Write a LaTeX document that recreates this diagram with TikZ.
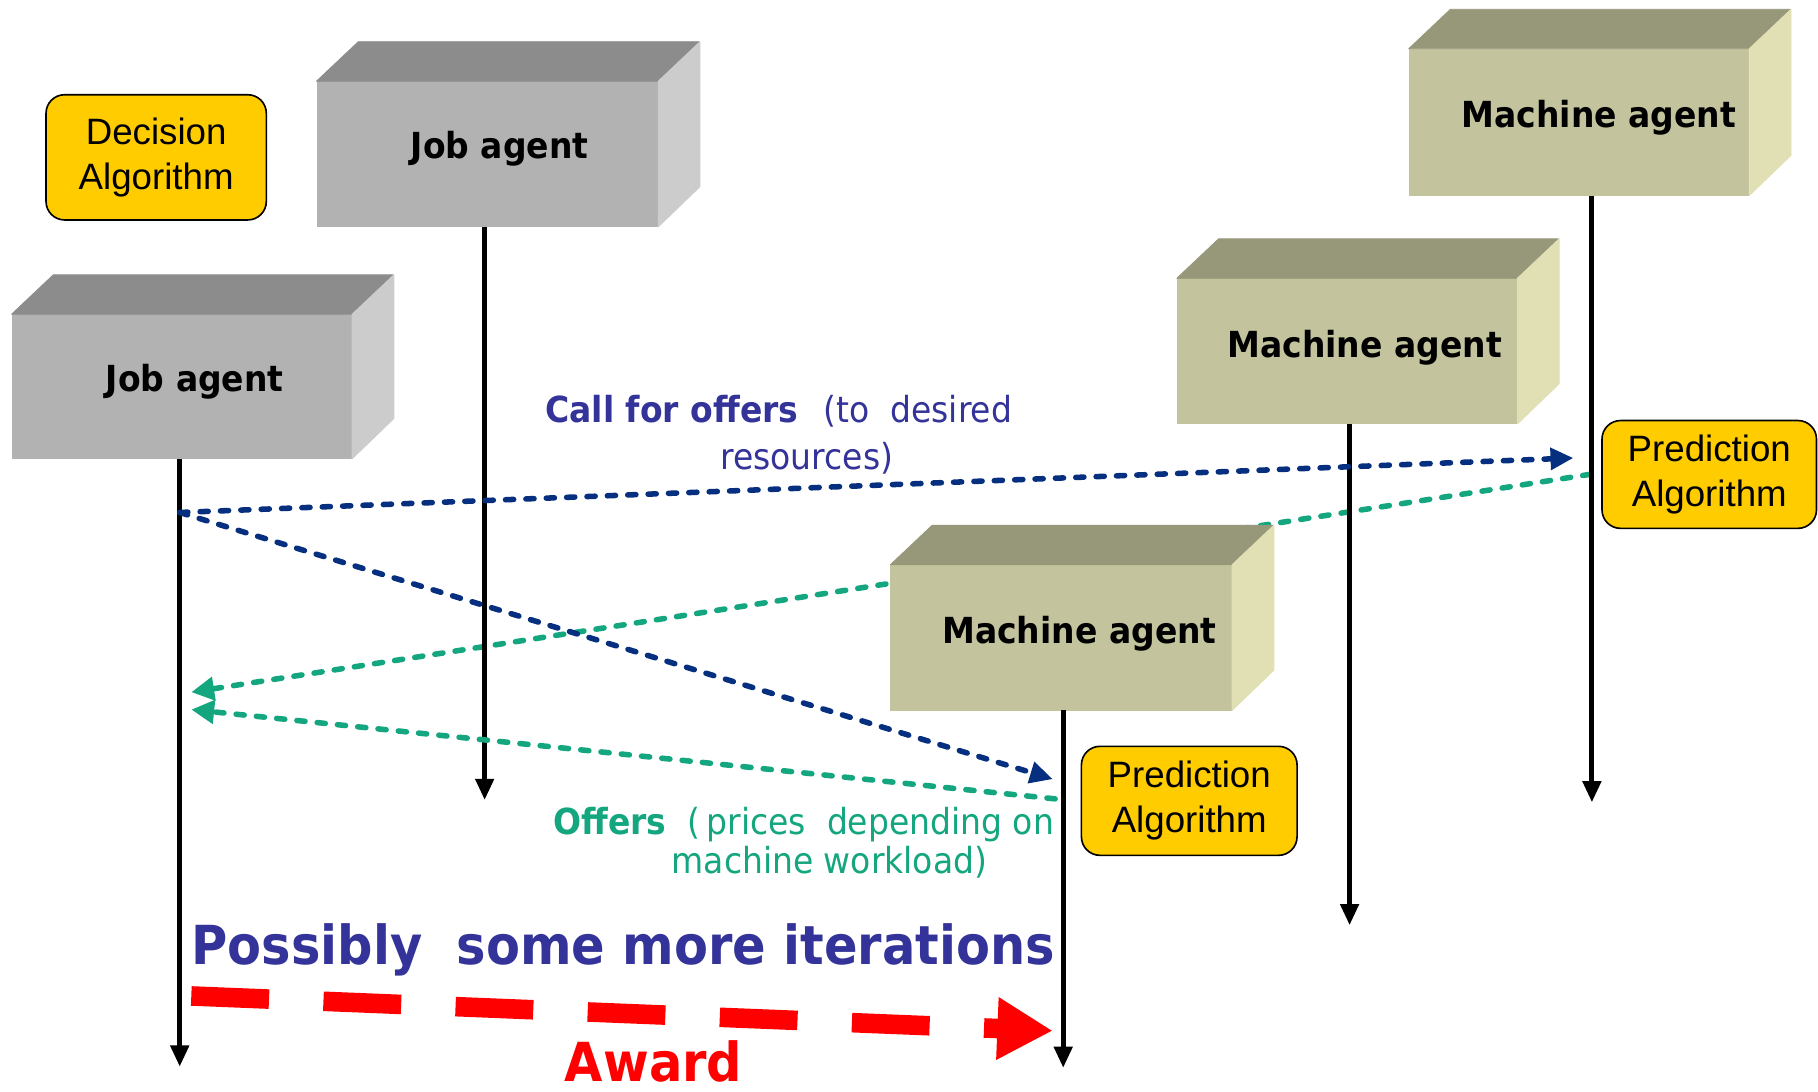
\documentclass[tikz,border=0pt]{standalone}
\usepackage{fontspec}
\setmainfont{Liberation Sans}
\newfontfamily\agentfont[FakeStretch=0.92]{DejaVu Sans}
\usetikzlibrary{arrows.meta}

\definecolor{algogold}{HTML}{FFCC00}
\definecolor{callnavy}{HTML}{06307F}
\definecolor{offergreen}{HTML}{14A67E}
\definecolor{labelindigo}{HTML}{333399}
\definecolor{awardred}{HTML}{FF0000}
\definecolor{jobfront}{HTML}{B2B2B2}
\definecolor{jobtop}{HTML}{8C8C8C}
\definecolor{jobside}{HTML}{CCCCCC}
\definecolor{machfront}{HTML}{C3C39D}
\definecolor{machtop}{HTML}{97977A}
\definecolor{machside}{HTML}{E0E0B4}

% 3D agent block: #1 name, #2/#3 top-left of front face, #4 width, #5 height, #6 colour prefix
\newcommand\agentblock[6]{%
  \node[fill=#6front, draw=#6front, line width=0.5pt, inner sep=0pt, anchor=north west,
        minimum width=#4*0.025cm, minimum height=#5*0.025cm] (#1) at (#2,#3) {};
  \filldraw[fill=#6top, draw=#6top, line width=0.5pt, line join=round]
    (#1.north west) -- ++(36,-34) -- ++(#4,0) -- (#1.north east) -- cycle;
  \filldraw[fill=#6side, draw=#6side, line width=0.5pt, line join=round]
    (#1.north east) -- ++(36,-34) -- ++(0,#5) -- (#1.south east) -- cycle;
}

\begin{document}
\begin{tikzpicture}[x=0.025cm, y=-0.025cm,
  agentlbl/.style={font=\agentfont\bfseries\fontsize{22}{26}\selectfont, anchor=base, inner sep=0pt},
  algo/.style={draw=black, line width=1pt, fill=algogold, rounded corners=0.4cm,
               align=center, inner sep=0pt, anchor=north west,
               font=\fontsize{22.5}{27.5}\selectfont},
  life/.style={line width=3pt, -{Triangle[length=13pt,width=11pt]}},
  msgline/.style={line width=3.4pt, line cap=round, dash pattern=on 5pt off 7.5pt},
  callmsg/.style={msgline, callnavy, -{Triangle[length=14pt,width=13pt]}},
  offermsg/.style={msgline, offergreen, -{Triangle[length=14pt,width=14pt]}},
  awardmsg/.style={awardred, line width=12pt, dash pattern=on 47.7pt off 33.4pt,
                   -{Triangle[length=34pt,width=36pt]}},
  msgtxt/.style={font=\agentfont\fontsize{22}{26}\selectfont, anchor=base west, inner sep=0pt},
  msgbold/.style={font=\agentfont\bfseries\fontsize{22}{26}\selectfont, anchor=base west, inner sep=0pt},
  bigtxt/.style={font=\agentfont\bfseries\fontsize{33}{38}\selectfont, anchor=base west, inner sep=0pt}
]
\useasboundingbox (0,0) rectangle (1568,941);
\fill[white] (0,0) rectangle (1568,941);

% lifeline end points
\coordinate (ja1end) at (155,920);
\coordinate (ja2end) at (418,690);
\coordinate (ma1end) at (917,921);
\coordinate (ma2end) at (1164,798);
\coordinate (ma3end) at (1373,692);

% message end points
\coordinate (callfrom) at (155,442);
\coordinate (callto3)  at (1357,395);
\coordinate (callto1)  at (908,672);
\coordinate (offfrom3) at (1372,409);
\coordinate (offto3)   at (165,597);
\coordinate (offfrom1) at (910,689);
\coordinate (offto1)   at (165,612);
\coordinate (awfrom)   at (165,859);
\coordinate (awto)     at (908,889);

% job agents
\agentblock{ja2}{273}{70}{294}{125}{job}
\node[agentlbl] (ja2t) at (431,137) {Job agent};
\agentblock{ja1}{10}{271}{293}{124}{job}
\node[agentlbl] (ja1t) at (168,338) {Job agent};

% machine agents (upper two)
\agentblock{ma3}{1215}{42}{293}{126}{mach}
\node[agentlbl] (ma3t) at (1379,110) {Machine agent};
\agentblock{ma2}{1015}{240}{293}{125}{mach}
\node[agentlbl] (ma2t) at (1177,308) {Machine agent};

% offer from the top machine runs behind the lowest machine block
\draw[offermsg] (offfrom3) -- (offto3);

\agentblock{ma1}{768}{487}{294}{125}{mach}
\node[agentlbl] (ma1t) at (931,555) {Machine agent};

% lifelines
\draw[life] (ja1end |- ja1.south) -- (ja1end);
\draw[life] (ja2end |- ja2.south) -- (ja2end);
\draw[life] (ma1end |- ma1.south) -- (ma1end);
\draw[life] (ma2end |- ma2.south) -- (ma2end);
\draw[life] (ma3end |- ma3.south) -- (ma3end);

% algorithm boxes
\node[algo, minimum width=190*0.025cm, minimum height=108*0.025cm] (dec) at (39,81) {Decision\\Algorithm};
\node[algo, minimum width=185*0.025cm, minimum height=93*0.025cm] (pred3) at (1381,362) {Prediction\\Algorithm};
\node[algo, minimum width=186*0.025cm, minimum height=94*0.025cm] (pred1) at (932,643) {Prediction\\Algorithm};

% call for offers
\draw[callmsg] (callfrom) -- (callto3);
\draw[callmsg] (callfrom) -- (callto1);
\node[msgbold, labelindigo] (cfo) at (470,364) {Call for offers};
\node[msgtxt, labelindigo] (cfo2) at (710,364) {(to\ \ desired};
\node[msgtxt, labelindigo] (cfo3) at (621,405) {resources)};

% offers
\draw[offermsg] (offfrom1) -- (offto1);
\node[msgbold, offergreen] (off) at (477,720) {Offers};
\node[msgtxt, offergreen] (off2) at (593,720) {(\,prices\ \ depending on};
\node[msgtxt, offergreen] (off3) at (579,753) {machine workload)};

% iterations and award
\node[bigtxt, labelindigo] (iter) at (165,832) {Possibly\ \ some more iterations};
\draw[awardmsg] (awfrom) -- (awto);
\node[bigtxt, awardred] (award) at (487,933) {Award};
\end{tikzpicture}
\end{document}
